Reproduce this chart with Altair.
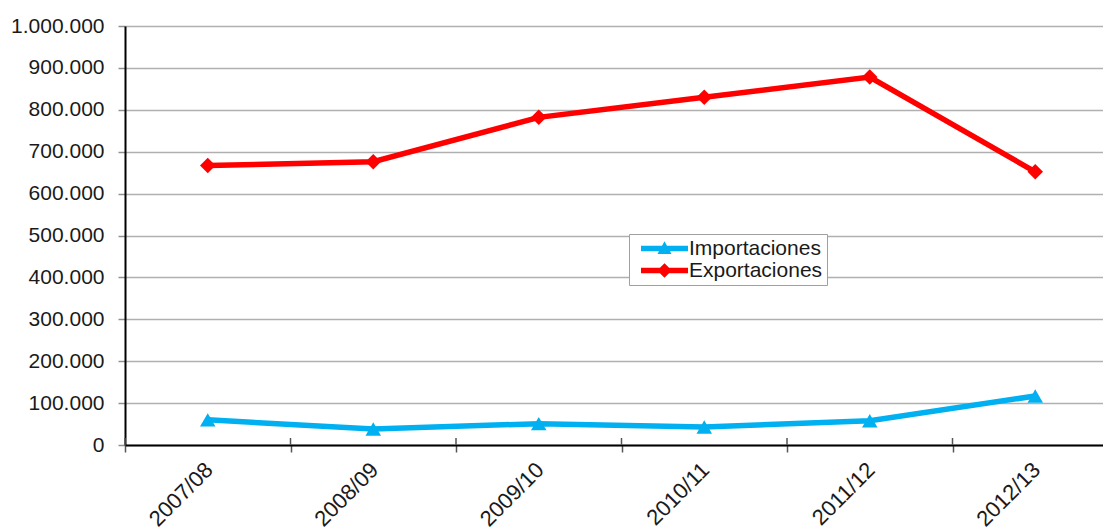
import altair as alt
import pandas as pd

# Campañas y toneladas por serie
periodos = ["2007/08", "2008/09", "2009/10", "2010/11", "2011/12", "2012/13"]
importaciones = [60000, 38000, 51000, 43000, 58000, 117000]
exportaciones = [667000, 676000, 782000, 830000, 878000, 652000]

series = ["Importaciones", "Exportaciones"]
colores = ["#00B0F0", "#FF0000"]
ticks_y = [i * 100000 for i in range(11)]

# Símbolos de la leyenda: trazo horizontal con su marcador
simbolo_imp = "M-3.36,-0.38H3.36V0.38H-3.36Z M0,-1.05L1,0.8H-1Z"
simbolo_exp = "M-3.36,-0.38H3.36V0.38H-3.36Z M0,-1.05L1.05,0L0,1.05L-1.05,0Z"

df = pd.DataFrame(
    {
        "periodo": periodos * 2,
        "valor": importaciones + exportaciones,
        "serie": ["Importaciones"] * len(periodos) + ["Exportaciones"] * len(periodos),
    }
)
df_cortes = pd.DataFrame({"periodo": periodos})

FONT = "Liberation Sans"
escala_x = alt.Scale(type="band", paddingInner=0, paddingOuter=0, range=[0, 993])

x = alt.X(
    "periodo:N",
    sort=periodos,
    scale=escala_x,
    axis=alt.Axis(
        title=None,
        grid=False,
        tickBand="extent",
        domainColor="#000000",
        domainWidth=2,
        tickColor="#555555",
        tickSize=7,
        tickWidth=1.5,
        labelAngle=315,
        labelAlign="right",
        labelBaseline="middle",
        labelOffset=1,
        labelPadding=14,
        labelFont=FONT,
        labelFontSize=22,
        labelColor="#1a1a1a",
    ),
)

y = alt.Y(
    "valor:Q",
    scale=alt.Scale(domain=[0, 1000000], nice=False),
    axis=alt.Axis(
        title=None,
        values=ticks_y,
        labelExpr="replace(format(datum.value, ',d'), regexp(',', 'g'), '.')",
        grid=True,
        gridColor="#b0b0b0",
        gridWidth=1.5,
        domainColor="#000000",
        domainWidth=2,
        tickColor="#909090",
        tickSize=7,
        tickWidth=1.5,
        labelPadding=14,
        labelFont=FONT,
        labelFontSize=21,
        labelColor="#1a1a1a",
    ),
)

color = alt.Color(
    "serie:N",
    title=None,
    scale=alt.Scale(domain=series, range=colores),
    legend=alt.Legend(
        orient="none",
        legendX=504,
        legendY=208,
        strokeColor="#a0a0a0",
        fillColor="#ffffff",
        padding=4,
        labelFont=FONT,
        labelFontSize=21,
        labelColor="#1a1a1a",
        symbolSize=196,
        symbolOffset=21,
        symbolStrokeWidth=0,
        labelOffset=14,
        rowPadding=0,
    ),
)

# Tramo interior de las marcas de graduación entre campañas
cortes = (
    alt.Chart(df_cortes)
    .mark_rule(color="#555555", strokeWidth=1.5, y2Offset=-7)
    .encode(
        x=alt.X("periodo:N", sort=periodos, scale=escala_x, bandPosition=0),
        y=alt.datum(0),
        y2=alt.datum(0),
    )
)

lineas = alt.Chart(df).mark_line(strokeWidth=5.5).encode(x=x, y=y, color=color)

puntos = alt.Chart(df).mark_point(filled=True, opacity=1, size=240).encode(
    x=x,
    y=y,
    color=color,
    shape=alt.condition(
        alt.datum.serie == "Importaciones",
        alt.value("triangle-up"),
        alt.value("diamond"),
    ),
)

# Capa sin marcas visibles: aporta la forma de los símbolos de la leyenda
leyenda = (
    alt.Chart(df)
    .transform_filter("datum.serie == 'ninguna'")
    .mark_point(filled=True, opacity=1)
    .encode(
        x=x,
        y=y,
        color=color,
        shape=alt.Shape(
            "serie:N",
            title=None,
            scale=alt.Scale(domain=series, range=[simbolo_imp, simbolo_exp]),
        ),
    )
)

chart = (
    alt.layer(cortes, lineas, puntos, leyenda)
    .properties(
        width=978,
        height=419,
        autosize=alt.AutoSizeParams(type="none"),
        padding={"left": 125, "top": 26, "right": 0, "bottom": 84},
        background="#ffffff",
    )
    .configure_view(strokeWidth=0)
)

chart.save("out.html", embed_options={"renderer": "svg", "actions": False})
